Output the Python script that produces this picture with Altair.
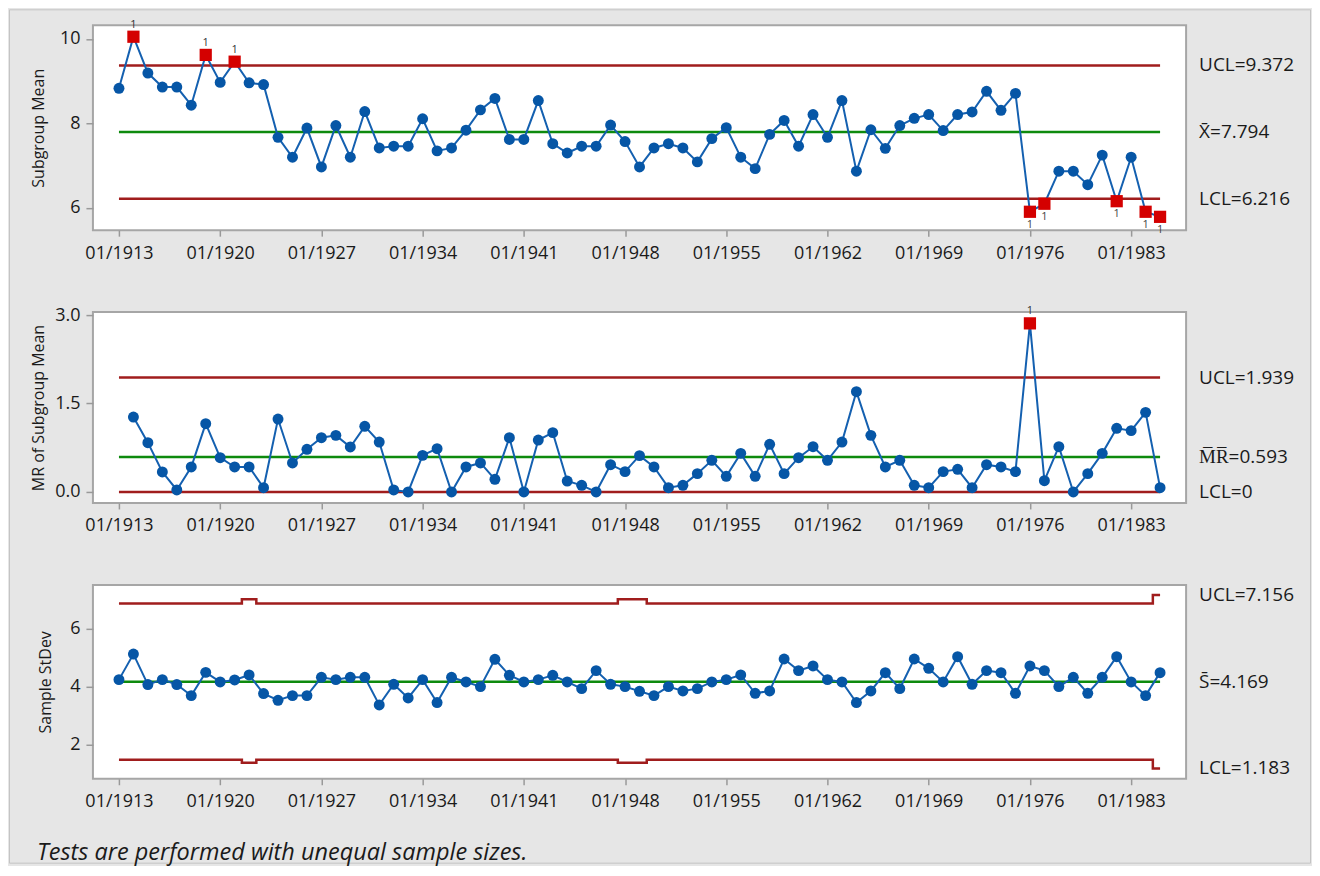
import altair as alt
import pandas as pd

FONT = "Open Sans"
BLUE = "#0656a6"
LINEBLUE = "#1460b0"
RED_PT = "#d40000"
RED_LINE = "#a01d1d"
GREEN = "#0d8a0d"
TXT = "#1a1a1a"

# ---------------- data ----------------
years = list(range(1913, 1986))
tick_years = [1913, 1920, 1927, 1934, 1941, 1948, 1955, 1962, 1969, 1976, 1983]

xbar = [8.83, 10.05, 9.19, 8.86, 8.86, 8.43, 9.62, 8.97, 9.46, 8.96,
        8.92, 7.67, 7.20, 7.89, 6.97, 7.95, 7.20, 8.28, 7.42, 7.46,
        7.46, 8.11, 7.35, 7.42, 7.84, 8.32, 8.59, 7.62, 7.62, 8.54,
        7.52, 7.30, 7.46, 7.46, 7.96, 7.57, 6.97, 7.42, 7.52, 7.42,
        7.09, 7.64, 7.90, 7.20, 6.93, 7.74, 8.07, 7.46, 8.21, 7.67,
        8.54, 6.87, 7.85, 7.41, 7.95, 8.12, 8.21, 7.83, 8.21, 8.27,
        8.76, 8.31, 8.71, 5.91, 6.10, 6.87, 6.87, 6.55, 7.25, 6.16,
        7.20, 5.91, 5.79]

mr_years = years[1:]
mr = [1.271, 0.836, 0.339, 0.034, 0.424, 1.158, 0.582, 0.424, 0.424, 0.073,
      1.237, 0.492, 0.723, 0.921, 0.960, 0.763, 1.113, 0.847, 0.034, 0.000,
      0.621, 0.734, 0.000, 0.424, 0.492, 0.215, 0.921, 0.000, 0.881, 1.006,
      0.186, 0.113, 0.000, 0.463, 0.345, 0.616, 0.424, 0.073, 0.113, 0.311,
      0.537, 0.266, 0.655, 0.266, 0.808, 0.311, 0.582, 0.768, 0.537, 0.847,
      1.701, 0.960, 0.424, 0.537, 0.113, 0.073, 0.345, 0.384, 0.073, 0.463,
      0.424, 0.345, 2.859, 0.192, 0.768, 0.000, 0.311, 0.655, 1.079, 1.040,
      1.350, 0.073]

sdev = [4.24, 5.12, 4.07, 4.24, 4.07, 3.69, 4.49, 4.16, 4.23, 4.40,
        3.76, 3.53, 3.69, 3.69, 4.32, 4.24, 4.32, 4.32, 3.37, 4.08,
        3.61, 4.24, 3.45, 4.32, 4.16, 4.00, 4.94, 4.39, 4.16, 4.24,
        4.39, 4.16, 3.93, 4.55, 4.08, 4.00, 3.84, 3.69, 4.00, 3.85,
        3.93, 4.16, 4.24, 4.40, 3.77, 3.85, 4.95, 4.55, 4.71, 4.24,
        4.16, 3.45, 3.85, 4.48, 3.93, 4.95, 4.63, 4.16, 5.03, 4.08,
        4.55, 4.48, 3.77, 4.71, 4.55, 4.00, 4.32, 3.77, 4.32, 5.03,
        4.16, 3.69, 4.48]

xbar_ucl, xbar_cl, xbar_lcl = 9.372, 7.794, 6.216
mr_ucl, mr_cl, mr_lcl = 1.939, 0.593, 0.0
s_cl = 4.169
s_ucl_main, s_ucl_small, s_ucl_last = 6.86, 7.01, 7.156
s_lcl_main, s_lcl_small, s_lcl_last = 1.48, 1.38, 1.183
s_small_years = [1922, 1948, 1949]
s_last_year = 1985

xbar_hi = [1914, 1919, 1921]
xbar_lo = [1976, 1977, 1982, 1984, 1985]
mr_hi = [1976]

footnote = "Tests are performed with unequal sample sizes."

# ---------------- helpers ----------------
W = 1094
XDOM = [1911.2, 1986.8]
LABEL_X = 1107


def xenc(field="year"):
    return alt.X(f"{field}:Q",
                 scale=alt.Scale(domain=XDOM, nice=False, zero=False),
                 axis=alt.Axis(values=tick_years, labelExpr="'01/' + datum.value",
                               title=None, tickSize=6, labelPadding=8,
                               labelFlush=False, labelOverlap=False))


def yenc(domain, ticks, fmt, title, tx):
    return alt.Y("value:Q",
                 scale=alt.Scale(domain=domain, nice=False, zero=False),
                 axis=alt.Axis(values=ticks, format=fmt, title=title,
                               titleX=tx, titleBaseline="middle",
                               tickSize=7, labelPadding=6,
                               labelFlush=False, labelOverlap=False))


def flags_of(yrs, hi, lo):
    return ["hi" if y in hi else ("lo" if y in lo else "none") for y in yrs]


def panel(series_df, rule_df, step_df, labels_df, height, ydom, yticks, yfmt,
          title, tx, extra=None):
    x = xenc()
    y = yenc(ydom, yticks, yfmt, title, tx)
    layers = []
    if extra is not None:
        layers.extend(extra["before"])
    if step_df is not None:
        layers.append(alt.Chart(step_df).mark_line(interpolate="step", strokeWidth=2.5,
                                                   color=RED_LINE)
                      .encode(x=x, y=y, detail="kind:N"))
    layers.append(alt.Chart(rule_df).mark_rule(strokeWidth=2.5)
                  .encode(x=xenc("x1"), x2="x2:Q", y=y,
                          color=alt.Color("col:N", scale=None)))
    layers.append(alt.Chart(series_df).mark_line(color=LINEBLUE, strokeWidth=2)
                  .encode(x=x, y=y))
    layers.append(alt.Chart(series_df).transform_filter("datum.flag == 'none'")
                  .mark_point(shape="circle", filled=True, size=120, color=BLUE, opacity=1)
                  .encode(x=x, y=y))
    layers.append(alt.Chart(series_df).transform_filter("datum.flag != 'none'")
                  .mark_point(shape="square", filled=True, size=150, color=RED_PT, opacity=1)
                  .encode(x=x, y=y))
    layers.append(alt.Chart(series_df).transform_filter("datum.flag == 'hi'")
                  .mark_text(text="1", dy=-12, fontSize=11, color="#333333", font=FONT)
                  .encode(x=x, y=y))
    layers.append(alt.Chart(series_df).transform_filter("datum.flag == 'lo'")
                  .mark_text(text="1", dy=13, fontSize=11, color="#444444", font=FONT)
                  .encode(x=x, y=y))
    layers.append(alt.Chart(labels_df).mark_text(align="left", baseline="middle",
                                                 fontSize=19, color=TXT, font=FONT)
                  .encode(x=alt.value(LABEL_X), y=y, text="label:N"))
    if extra is not None:
        layers.extend(extra["after"])
    return alt.layer(*layers).properties(width=W, height=height)


# ---------------- top panel ----------------
top_df = pd.DataFrame({"year": years, "value": xbar,
                       "flag": flags_of(years, xbar_hi, xbar_lo)})
top_rules = pd.DataFrame({"x1": [1913] * 3, "x2": [1985] * 3,
                          "value": [xbar_ucl, xbar_cl, xbar_lcl],
                          "col": [RED_LINE, GREEN, RED_LINE]})
top_labels = pd.DataFrame({"value": [xbar_ucl, xbar_cl, xbar_lcl],
                           "label": ["UCL=9.372", "X\u0304=7.794", "LCL=6.216"]})
border = alt.Chart(pd.DataFrame({"a": [0]})).mark_rect(
    fillOpacity=0, stroke="#c4c4c4", strokeWidth=1).encode(
    x=alt.value(-83.5), x2=alt.value(1218.5), y=alt.value(-15.5), y2=alt.value(838.5))
top = panel(top_df, top_rules, None, top_labels, 205, [5.475, 10.32], [6, 8, 10], "d",
            "Subgroup Mean", -54, extra={"before": [border], "after": []})

# ---------------- middle panel ----------------
mid_df = pd.DataFrame({"year": mr_years, "value": mr,
                       "flag": flags_of(mr_years, mr_hi, [])})
mid_rules = pd.DataFrame({"x1": [1913] * 3, "x2": [1985] * 3,
                          "value": [mr_ucl, mr_cl, mr_lcl],
                          "col": [RED_LINE, GREEN, RED_LINE]})
mid_labels = pd.DataFrame({"value": [mr_ucl, mr_cl, mr_lcl],
                           "label": ["UCL=1.939", "M\u0305R\u0305=0.593", "LCL=0"]})
mid = panel(mid_df, mid_rules, None, mid_labels, 191, [-0.186, 3.05], [0, 1.5, 3.0], ".1f",
            "MR of Subgroup Mean", -54)

# ---------------- bottom panel ----------------
s_ucl = [s_ucl_last if y == s_last_year else (s_ucl_small if y in s_small_years else s_ucl_main)
         for y in years]
s_lcl = [s_lcl_last if y == s_last_year else (s_lcl_small if y in s_small_years else s_lcl_main)
         for y in years]
bot_df = pd.DataFrame({"year": years, "value": sdev, "flag": ["none"] * len(years)})
bot_steps = pd.DataFrame({"year": years + years, "value": s_ucl + s_lcl,
                          "kind": ["ucl"] * len(years) + ["lcl"] * len(years)})
bot_rules = pd.DataFrame({"x1": [1913], "x2": [1985], "value": [s_cl], "col": [GREEN]})
bot_labels = pd.DataFrame({"value": [s_ucl_last, s_cl, s_lcl_last],
                           "label": ["UCL=7.156", "S\u0304=4.169", "LCL=1.183"]})
note = alt.Chart(pd.DataFrame({"a": [0]})).mark_text(
    text=footnote, align="left", baseline="middle", fontSize=23.5, fontStyle="italic",
    color=TXT, font=FONT).encode(x=alt.value(-56), y=alt.value(268))
bot = panel(bot_df, bot_rules, bot_steps, bot_labels, 194, [0.83, 7.50], [2, 4, 6], "d",
            "Sample StDev", -47, extra={"before": [], "after": [note]})

chart = (alt.vconcat(top, mid, bot, spacing=82, bounds="flush")
         .properties(padding=0)
         .configure(font=FONT, background="#e6e6e6")
         .configure_view(stroke="#a6a6a6", strokeWidth=2, fill="white")
         .configure_axis(labelFont=FONT, labelFontSize=18, labelColor=TXT,
                         tickColor="#999999", tickWidth=1.5, domain=False, grid=False,
                         titleFont=FONT, titleFontSize=16, titleFontWeight="normal",
                         titleColor=TXT))

chart.save("out.html", embed_options={"renderer": "svg", "actions": False})
